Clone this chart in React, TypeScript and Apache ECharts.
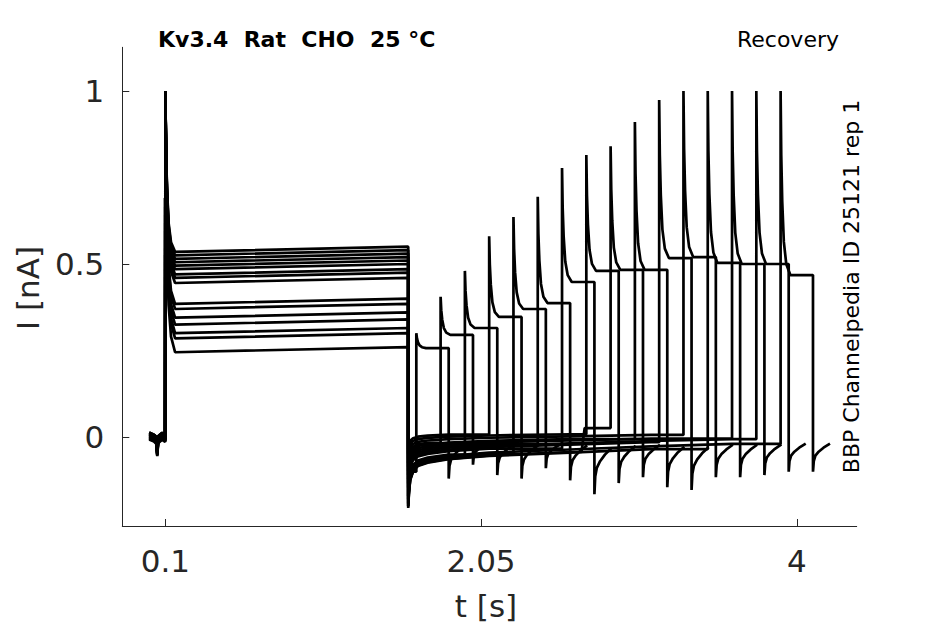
import React, { useEffect, useRef } from "react";
import * as echarts from "echarts";

// ---- Protocol timing (s) ----
const pulse1On = 0.1;
const pulse1Off = 1.6;
const pulse2Dur = 0.2;
const firstPeak = 1.0;

// second-pulse onset per sweep (s)
const recoveryStart = [1.65, 1.8, 1.95, 2.1, 2.25, 2.4, 2.55, 2.7, 2.85, 3.0, 3.15, 3.3, 3.45, 3.6, 3.75, 3.9];
// second-pulse peak current (nA)
const peak2 = [0.3, 0.405, 0.48, 0.58, 0.636, 0.694, 0.777, 0.815, 0.84, 0.91, 0.974, 1.0, 1.0, 1.0, 1.0, 1.0];
// second-pulse sustained current (nA)
const plateau2 = [0.257, 0.295, 0.315, 0.347, 0.37, 0.387, 0.448, 0.48, 0.483, 0.483, 0.517, 0.52, 0.503, 0.5, 0.5, 0.468];
// first-pulse sustained current at start / end of the pulse (nA)
const plateau1Start = [0.245, 0.285, 0.3, 0.325, 0.345, 0.37, 0.385, 0.445, 0.46, 0.47, 0.485, 0.495, 0.505, 0.515, 0.525, 0.535];
const plateau1End = [0.26, 0.3, 0.315, 0.34, 0.36, 0.385, 0.4, 0.46, 0.475, 0.485, 0.5, 0.51, 0.52, 0.53, 0.54, 0.55];
// depth of the tail after the first pulse, relative to tailV, and its offset (nA)
const tailScale = [1.0, 0.45, 0.85, 0.3, 0.95, 0.6, 0.75, 0.35, 0.98, 0.5, 0.7, 0.4, 0.97, 0.55, 0.65, 0.9];
const tailOffset = [-0.005, 0.015, 0.0, 0.025, -0.002, 0.01, 0.004, 0.022, -0.004, 0.014, 0.006, 0.018, -0.006, 0.012, 0.008, 0.0];
// extra hump in one sweep's tail, just before its second pulse
const bumpSweep = 8;
const bumpStart = 2.67;
const bumpLevel = 0.026;
// minimum of the tail after the second pulse (nA)
const hookMin = [-0.12, -0.08, -0.11, -0.12, -0.09, -0.125, -0.165, -0.133, -0.116, -0.145, -0.153, -0.116, -0.116, -0.11, -0.1, -0.1];
// small baseline offsets before the first pulse (nA)
const baseOffset = [0.008, -0.006, 0.004, -0.01, 0.0, 0.01, -0.004, 0.006, -0.008, 0.002, 0.01, -0.002, 0.004, -0.006, 0.0, 0.008];

// ---- Shapes ----
const preT = [0, 0.03, 0.045, 0.05, 0.055, 0.08, 0.099];
const preV = [0.003, -0.003, -0.01, -0.045, -0.008, 0.002, -0.004];
const decayT = [0, 0.004, 0.01, 0.02, 0.035, 0.06];
const decayF = [1, 0.65, 0.4, 0.18, 0.06, 0];
const tailT = [0, 0.004, 0.012, 0.03, 0.06, 0.12, 0.25, 0.5, 1.0, 1.5, 2.0, 2.3];
const tailV = [-0.2, -0.16, -0.12, -0.095, -0.08, -0.07, -0.06, -0.05, -0.04, -0.03, -0.022, -0.018];
const hookT = [0, 0.005, 0.015, 0.035, 0.065, 0.105];
const hookV = [-0.13, -0.09, -0.07, -0.055, -0.04, -0.025];

// ---- Axes ----
const xTicks = [0.1, 2.05, 4];
const xTickLabels = ["0.1", "2.05", "4"];
const yTicks = [0, 0.5, 1];
const yTickLabels = ["0", "0.5", "1"];

function buildSweep(k: number): [number, number][] {
  const pts: [number, number][] = [];
  for (let i = 0; i < preT.length; i++) pts.push([preT[i], preV[i] + baseOffset[k]]);
  const p1 = plateau1Start[k];
  for (let i = 0; i < decayT.length; i++) pts.push([pulse1On + decayT[i], p1 + (firstPeak - p1) * decayF[i]]);
  pts.push([pulse1Off, plateau1End[k]]);
  const rs = recoveryStart[k];
  const tailEnd = k === bumpSweep ? bumpStart : rs;
  for (let i = 0; i < tailT.length; i++) {
    const t = pulse1Off + tailT[i];
    if (t >= tailEnd) break;
    pts.push([t, tailV[i] * tailScale[k] + tailOffset[k]]);
  }
  if (k === bumpSweep) {
    pts.push([bumpStart, pts[pts.length - 1][1]]);
    pts.push([bumpStart + 0.02, bumpLevel]);
    pts.push([rs, bumpLevel]);
  } else {
    pts.push([rs, pts[pts.length - 1][1]]);
  }
  const p2 = plateau2[k];
  for (let i = 0; i < decayT.length; i++) pts.push([rs + decayT[i], p2 + (peak2[k] - p2) * decayF[i]]);
  const off2 = rs + pulse2Dur;
  pts.push([off2, p2]);
  for (let i = 0; i < hookT.length; i++) pts.push([off2 + hookT[i], (hookV[i] * hookMin[k]) / hookV[0]]);
  return pts;
}

const labelFor = (ticks: number[], labels: string[]) => (v: number) => {
  const i = ticks.findIndex((t) => Math.abs(t - v) < 1e-6);
  return i >= 0 ? labels[i] : "";
};

const FONT = '"DejaVu Sans", Verdana, sans-serif';
const AX = "#262626";

export default function App() {
  const ref = useRef<HTMLDivElement>(null);
  useEffect(() => {
    if (!ref.current) return;
    const chart = echarts.init(ref.current, undefined, { renderer: "svg" });
    const series = recoveryStart.map((_, k) => ({
      type: "line",
      data: buildSweep(k),
      showSymbol: false,
      symbol: "none",
      silent: true,
      lineStyle: { color: "#000", width: 2.7 },
      z: 2,
    }));
    chart.setOption({
      animation: false,
      backgroundColor: "#ffffff",
      grid: { left: 122.3, right: 88.3, top: 47.3, bottom: 98, outerBoundsMode: "none", containLabel: false },
      xAxis: {
        type: "value",
        min: -0.166,
        max: 4.37,
        axisLine: { show: true, onZero: false, lineStyle: { color: AX, width: 1 } },
        axisTick: { show: true, inside: true, length: 7, customValues: xTicks, lineStyle: { color: AX, width: 1 } },
        axisLabel: {
          customValues: xTicks,
          formatter: labelFor(xTicks, xTickLabels),
          fontSize: 31,
          color: AX,
          margin: 19,
          fontFamily: FONT,
        },
        splitLine: { show: false },
      },
      yAxis: {
        type: "value",
        min: -0.257,
        max: 1.126,
        axisLine: { show: true, onZero: false, lineStyle: { color: AX, width: 1 } },
        axisTick: { show: true, inside: true, length: 7, customValues: yTicks, lineStyle: { color: AX, width: 1 } },
        axisLabel: {
          customValues: yTicks,
          formatter: labelFor(yTicks, yTickLabels),
          fontSize: 31,
          color: AX,
          margin: 18,
          fontFamily: FONT,
        },
        splitLine: { show: false },
      },
      series,
      graphic: [
        {
          type: "text",
          x: 158,
          y: 39,
          style: { text: "Kv3.4  Rat  CHO  25 °C", font: `bold 22px ${FONT}`, fill: "#000", align: "left", verticalAlign: "middle" },
        },
        {
          type: "text",
          x: 839,
          y: 39,
          style: { text: "Recovery", font: `22px ${FONT}`, fill: "#000", align: "right", verticalAlign: "middle" },
        },
        {
          type: "text",
          x: 851,
          y: 286.5,
          rotation: Math.PI / 2,
          style: { text: "BBP Channelpedia ID 25121 rep 1", font: `22px ${FONT}`, fill: "#000", align: "center", verticalAlign: "middle" },
        },
        {
          type: "text",
          x: 28,
          y: 288,
          rotation: Math.PI / 2,
          style: { text: "I [nA]", font: `31px ${FONT}`, fill: AX, align: "center", verticalAlign: "middle" },
        },
        {
          type: "text",
          x: 486,
          y: 606,
          style: { text: "t [s]", font: `31px ${FONT}`, fill: AX, align: "center", verticalAlign: "middle" },
        },
      ],
    });
    return () => chart.dispose();
  }, []);
  return <div ref={ref} style={{ position: "fixed", left: 0, top: 0, width: 945, height: 624 }} />;
}
